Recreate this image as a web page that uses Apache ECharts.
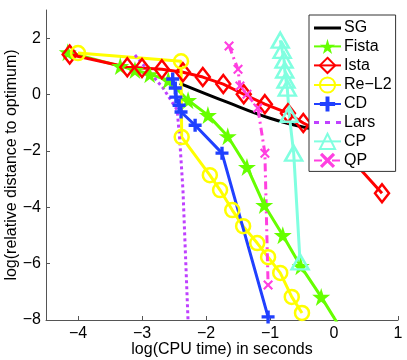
<!DOCTYPE html>
<html>
<head>
<meta charset="utf-8">
<script src="https://cdn.jsdelivr.net/npm/echarts@6/dist/echarts.min.js"></script>
<style>
html, body { margin: 0; padding: 0; background: #fff; }
#chart { width: 407px; height: 360px; }
</style>
</head>
<body>
<div id="chart"></div>
<script>
// [log10 cpu time, log10 relative distance]
const sgData = [[-2.41, 0.40], [-1.67, -0.27], [-1.0, -0.84], [-0.41, -1.19], [0.3, -1.5]];
const fistaData = [[-4.16, 1.50], [-3.34, 1.01], [-3.11, 0.87], [-2.88, 0.72], [-2.59, 0.51], [-2.28, -0.20],
  [-1.97, -0.73], [-1.66, -1.48], [-1.36, -2.57], [-1.09, -3.92], [-0.80, -4.99], [-0.52, -6.09], [-0.20, -7.18], [0.09, -8.25]];
const istaData = [[-4.13, 1.42], [-3.23, 0.97], [-3.0, 0.94], [-2.69, 0.90], [-2.36, 0.79], [-2.05, 0.62], [-1.73, 0.37],
  [-1.41, 0.01], [-1.08, -0.34], [-0.72, -0.66], [-0.48, -1.01], [-0.17, -1.37], [0.14, -1.97], [0.75, -3.5]];
const rel2Data = [[-4.0, 1.47], [-2.39, 1.18], [-2.38, -1.51], [-1.94, -2.86], [-1.78, -3.39], [-1.59, -4.10], [-1.42, -4.67],
  [-1.20, -5.27], [-1.03, -5.77], [-0.84, -6.33], [-0.66, -7.18], [-0.50, -7.75]];
const cdData = [[-2.52, 0.55], [-2.48, 0.23], [-2.47, -0.09], [-2.42, -0.38], [-2.39, -0.62], [-2.17, -1.09], [-1.75, -2.08], [-1.03, -7.89]];
const larsData = [[-3.11, 1.40], [-2.88, 0.79], [-2.67, 0.23], [-2.45, -0.55], [-2.41, -1.62], [-2.36, -3.39], [-2.28, -8.05]];
const cpData = [[-0.84, 1.93], [-0.81, 1.57], [-0.78, 1.22], [-0.77, 0.87], [-0.75, 0.51], [-0.73, 0.23], [-0.70, -0.70], [-0.63, -2.08], [-0.53, -5.94]];
const qpData = [[-1.64, 1.72], [-1.50, 0.90], [-1.47, 0.30], [-1.36, 0.01], [-1.19, -0.48], [-1.08, -2.08], [-1.03, -6.76]];

const seriesNames = ["SG", "Fista", "Ista", "Re\u2212L2", "CD", "Lars", "CP", "QP"];
const xTicks = [-4, -3, -2, -1, 0, 1];
const yTicks = [-8, -6, -4, -2, 0, 2];

const starPath = "path://M50,0 L61,35 L98,35 L68,57 L79,91 L50,70 L21,91 L32,57 L2,35 L39,35 Z";
const plusPath = "path://M0,37 H100 V63 H0 Z M37,0 H63 V100 H37 Z";
const crossPath = "path://M0,15 L15,0 L50,35 L85,0 L100,15 L65,50 L100,85 L85,100 L50,65 L15,100 L0,85 L35,50 Z";
// legend samples for the two marker-less series
const solidIcon = "path://M0,0 H27 V3 H0 Z";
const dotIcon = "path://M0,0 H5 V3 H0 Z M11,0 H16 V3 H11 Z M22,0 H27 V3 H22 Z";

const fnt = "Liberation Sans";
const minus = v => String(v).replace("-", "\u2212");

function lineSeries(name, data, color, opts) {
  return Object.assign({
    name: name,
    type: "line",
    data: data,
    color: color,
    clip: true,
    lineStyle: { color: color, width: 3 },
    animation: false
  }, opts);
}

let chart = echarts.init(document.getElementById("chart"));
let option = {
  animation: false,
  grid: { left: 46, right: 9, top: 10, bottom: 40, outerBoundsMode: "none", containLabel: false },
  legend: {
    orient: "vertical",
    left: 309,
    top: 15,
    padding: [5, 4, 3, 4],
    itemGap: 2.4,
    itemWidth: 27,
    itemHeight: 19,
    backgroundColor: "#fff",
    borderColor: "#333",
    borderWidth: 1,
    borderRadius: 0,
    textStyle: { fontFamily: fnt, fontSize: 16, color: "#000", padding: [0, 0, 0, -2] },
    data: [
      { name: seriesNames[0], icon: solidIcon },
      seriesNames[1], seriesNames[2], seriesNames[3], seriesNames[4],
      { name: seriesNames[5], icon: dotIcon },
      seriesNames[6], seriesNames[7]
    ]
  },
  xAxis: {
    type: "value",
    min: -4.5,
    max: 1,
    name: "log(CPU time) in seconds",
    nameLocation: "middle",
    nameGap: 22,
    nameMoveOverlap: false,
    nameTextStyle: { fontFamily: fnt, fontSize: 16, color: "#000" },
    axisLine: { onZero: false, lineStyle: { color: "#555", width: 1 } },
    axisTick: { inside: true, length: 4, customValues: xTicks, lineStyle: { color: "#555" } },
    axisLabel: { customValues: xTicks, formatter: minus, fontFamily: fnt, fontSize: 16, color: "#000", margin: 6 },
    splitLine: { show: false }
  },
  yAxis: {
    type: "value",
    min: -8,
    max: 3,
    name: "log(relative distance to optimum)",
    nameLocation: "middle",
    nameGap: 26,
    nameMoveOverlap: false,
    nameTextStyle: { fontFamily: fnt, fontSize: 16, color: "#000" },
    axisLine: { onZero: false, lineStyle: { color: "#555", width: 1 } },
    axisTick: { inside: true, length: 4, customValues: yTicks, lineStyle: { color: "#555" } },
    axisLabel: { customValues: yTicks, formatter: minus, fontFamily: fnt, fontSize: 16, color: "#000", margin: 5 },
    splitLine: { show: false }
  },
  series: [
    lineSeries(seriesNames[0], sgData, "#000000", { symbol: "none", smooth: 0.4 }),
    lineSeries(seriesNames[1], fistaData, "#66ff00", { symbol: starPath, symbolSize: 18, itemStyle: { color: "#66ff00" } }),
    lineSeries(seriesNames[2], istaData, "#ff0000", {
      symbol: "diamond", symbolSize: [14, 18],
      itemStyle: { color: "rgba(0,0,0,0)", borderColor: "#ff0000", borderWidth: 2.5 }
    }),
    lineSeries(seriesNames[3], rel2Data, "#ffff00", {
      symbol: "circle", symbolSize: 14,
      itemStyle: { color: "rgba(0,0,0,0)", borderColor: "#ffff00", borderWidth: 2.5 }
    }),
    lineSeries(seriesNames[4], cdData, "#2040ff", { symbol: plusPath, symbolSize: 13, itemStyle: { color: "#2040ff" } }),
    lineSeries(seriesNames[5], larsData, "#bf40ff", { symbol: "none", lineStyle: { color: "#bf40ff", width: 3, type: "dotted" } }),
    lineSeries(seriesNames[6], cpData, "#80ffe0", {
      symbol: "triangle", symbolSize: [17, 15],
      itemStyle: { color: "rgba(0,0,0,0)", borderColor: "#80ffe0", borderWidth: 2.5 }
    }),
    lineSeries(seriesNames[7], qpData, "#ff40e0", {
      symbol: crossPath, symbolSize: 10, itemStyle: { color: "#ff40e0" },
      lineStyle: { color: "#ff40e0", width: 3, type: [8, 4, 2, 4] }
    })
  ]
};
chart.setOption(option);
</script>
</body>
</html>
